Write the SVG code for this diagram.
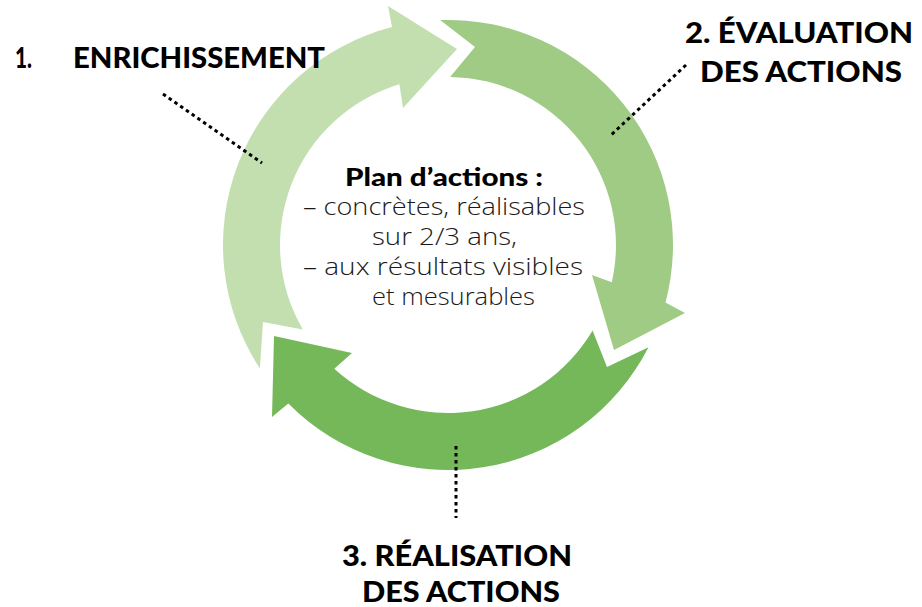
<svg xmlns="http://www.w3.org/2000/svg" width="922" height="607" viewBox="0 0 922 607">
  <style>
    .lbl { font-family: Lato, "Liberation Sans", sans-serif; font-weight: 900; font-size: 28px; fill: #000; }
    .ctr { font-family: "Open Sans", "Liberation Sans", sans-serif; font-size: 24px; fill: #1a1a1a; }
    .ctrb { font-family: Lato, "Liberation Sans", sans-serif; font-weight: 900; font-size: 25px; fill: #000; }
    .ctrl { font-weight: 300; }
    .dot { fill: none; stroke: #000; stroke-width: 3; stroke-dasharray: 3.5 3.5; }
  </style>
  <rect width="922" height="607" fill="#fff"/>
  <g id="arrow-enrichissement">
    <path fill="#c3dfb0" d="M259.9,368.5 A225,225 0 0 1 392,27.1 L388,6 L457,49 L403,108 L399.4,84.2 A168,168 0 0 0 302.8,329.5 L263,322 Z"/>
  </g>
  <g id="arrow-evaluation">
    <path fill="#9fcb84" d="M440.1,20.1 A225,225 0 0 1 665.5,302.5 L685,313 L614,350 L592,275 L611.8,282.2 A168,168 0 0 0 450.1,77 L475,47 Z"/>
  </g>
  <g id="arrow-realisation">
    <path fill="#74b85a" d="M648.5,347.2 A225,225 0 0 1 288.3,403.5 L272,417 L274,336 L352,353 L334.3,368.7 A168,168 0 0 0 592.6,330.5 L607,367 Z"/>
  </g>
  <g id="connectors">
    <line class="dot" x1="163" y1="94" x2="262" y2="163"/>
    <line class="dot" x1="686" y1="65" x2="610" y2="136"/>
    <line class="dot" x1="456" y1="446" x2="456" y2="518"/>
  </g>
  <g id="label-1">
    <text class="lbl" x="15" y="68" textLength="17" lengthAdjust="spacingAndGlyphs" style="font-size:29px">1.</text>
    <text class="lbl" x="73" y="68" textLength="252" lengthAdjust="spacingAndGlyphs">ENRICHISSEMENT</text>
  </g>
  <g id="label-2">
    <text class="lbl" x="685" y="43" textLength="228" lengthAdjust="spacingAndGlyphs">2. ÉVALUATION</text>
    <text class="lbl" x="700" y="82" textLength="202" lengthAdjust="spacingAndGlyphs">DES ACTIONS</text>
  </g>
  <g id="label-3">
    <text class="lbl" x="342" y="566" textLength="230" lengthAdjust="spacingAndGlyphs">3. RÉALISATION</text>
    <text class="lbl" x="362" y="602" textLength="198" lengthAdjust="spacingAndGlyphs">DES ACTIONS</text>
  </g>
  <g id="center-text">
    <text class="ctrb" x="345" y="186" textLength="198" lengthAdjust="spacingAndGlyphs">Plan d’actions :</text>
    <text class="ctr ctrl" x="303" y="215" textLength="282" lengthAdjust="spacingAndGlyphs">– concrètes, réalisables</text>
    <text class="ctr ctrl" x="372" y="245" textLength="145" lengthAdjust="spacingAndGlyphs">sur 2/3 ans,</text>
    <text class="ctr ctrl" x="303" y="275" textLength="280" lengthAdjust="spacingAndGlyphs">– aux résultats visibles</text>
    <text class="ctr ctrl" x="372" y="305" textLength="163" lengthAdjust="spacingAndGlyphs">et mesurables</text>
  </g>
</svg>
